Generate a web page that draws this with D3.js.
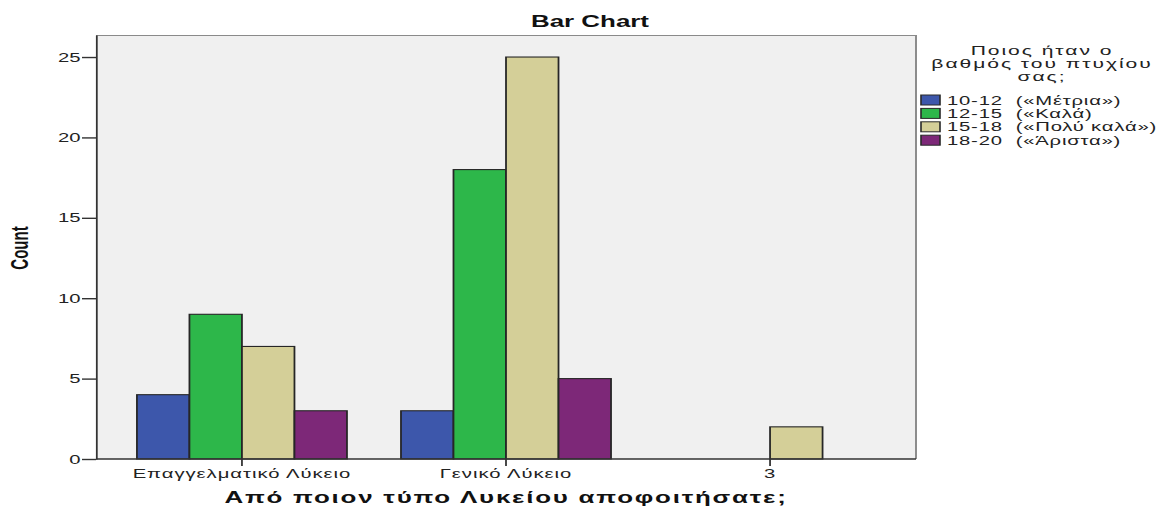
<!DOCTYPE html>
<html>
<head>
<meta charset="utf-8">
<script src="https://cdn.jsdelivr.net/npm/d3@7"></script>
<style>
  html, body { margin: 0; padding: 0; background: #fff; }
  svg { display: block; }
  text { font-family: "Liberation Sans", Arial, sans-serif; }
</style>
</head>
<body>
<svg id="chart" width="1158" height="506"></svg>
<script>
// ---- data ----
const categories = ["Επαγγελματικό Λύκειο", "Γενικό Λύκειο", "3"];
const seriesNames = ["10-12  («Μέτρια»)", "12-15  («Καλά)", "15-18  («Πολύ καλά»)", "18-20  («Άριστα»)"];
const seriesColors = ["#3d57ab", "#2db74a", "#d4cf98", "#7d2878"];
const values1012 = [4, 3, 0];
const values1215 = [9, 18, 0];
const values1518 = [7, 25, 2];
const values1820 = [3, 5, 0];
const yTicks = [0, 5, 10, 15, 20, 25];
const titleText = "Bar Chart";
const xTitle = "Από ποιον τύπο Λυκείου αποφοιτήσατε;";
const yTitle = "Count";
const legendTitle = ["Ποιος ήταν ο", "βαθμός του πτυχίου", "σας;"];

// ---- layout (real pixels; x is drawn in a horizontally stretched frame) ----
const SX = 1.62;                 // horizontal stretch of the original picture
const vx = v => v / SX;          // real x -> virtual x
const plot = { left: 96, right: 916, top: 35, bottom: 459 };

const svg = d3.select("#chart");
const root = svg.append("g").attr("transform", `scale(${SX},1)`);

const seriesValues = [values1012, values1215, values1518, values1820];

const x0 = d3.scaleBand()
  .domain(categories)
  .range([vx(plot.left), vx(plot.right)])
  .paddingInner(0.2045)
  .paddingOuter(0.155);
const x1 = d3.scaleBand()
  .domain(d3.range(seriesNames.length))
  .range([0, x0.bandwidth()])
  .padding(0);
const y = d3.scaleLinear().domain([0, 26.37]).range([plot.bottom, plot.top]);

// plot background
root.append("rect")
  .attr("x", vx(plot.left)).attr("y", plot.top)
  .attr("width", vx(plot.right) - vx(plot.left))
  .attr("height", plot.bottom - plot.top)
  .attr("fill", "#f0f0f0");
// top and right frame
root.append("path")
  .attr("d", `M${vx(plot.left)},${plot.top + 0.5}H${vx(plot.right)}V${plot.bottom}`)
  .attr("fill", "none").attr("stroke", "#8a8a8a").attr("stroke-width", 1.2);

// bars
const barData = [];
categories.forEach((c, ci) => {
  seriesValues.forEach((vals, si) => {
    if (vals[ci] > 0) barData.push({ c, si, v: vals[ci] });
  });
});
root.append("g").selectAll("rect").data(barData).join("rect")
  .attr("x", d => x0(d.c) + x1(d.si))
  .attr("y", d => y(d.v))
  .attr("width", x1.bandwidth())
  .attr("height", d => y(0) - y(d.v))
  .attr("fill", d => seriesColors[d.si])
  .attr("stroke", "#262626")
  .attr("stroke-width", 1.1);

// y axis
const yAxis = root.append("g")
  .attr("transform", `translate(${vx(plot.left)},0)`)
  .call(d3.axisLeft(y).tickValues(yTicks).tickSize(vx(14)).tickPadding(1).tickSizeOuter(0));
yAxis.select(".domain").attr("stroke", "#333").attr("stroke-width", 1.1);
yAxis.selectAll(".tick line").attr("stroke", "#333").attr("stroke-width", 1.4);
yAxis.selectAll(".tick text").attr("fill", "#222").style("font-size", "12.5px").style("font-family", "'Liberation Sans', Arial, sans-serif");

// x axis
const xAxis = root.append("g")
  .attr("transform", `translate(0,${plot.bottom})`)
  .call(d3.axisBottom(x0).tickSize(7).tickPadding(3).tickSizeOuter(0));
xAxis.select(".domain").attr("stroke", "#333").attr("stroke-width", 1.4)
  .attr("d", `M${vx(plot.left)},0H${vx(plot.right)}`);
xAxis.selectAll(".tick line").attr("stroke", "#333").attr("stroke-width", 1.1);
xAxis.selectAll(".tick text").attr("fill", "#222")
  .style("font-size", "12.5px").style("letter-spacing", "0.6px")
  .style("font-family", "'Liberation Sans', Arial, sans-serif");

// title
root.append("text")
  .attr("x", vx(590)).attr("y", 27)
  .attr("text-anchor", "middle")
  .style("font-size", "16px").style("font-weight", "bold").attr("fill", "#111")
  .text(titleText);

// x title
root.append("text")
  .attr("x", vx(506)).attr("y", 503)
  .attr("text-anchor", "middle")
  .style("font-size", "16px").style("font-weight", "bold").style("letter-spacing", "1.1px")
  .attr("fill", "#111")
  .text(xTitle);

// y title
root.append("text")
  .attr("transform", `translate(${vx(28)},248) rotate(-90)`)
  .attr("text-anchor", "middle")
  .style("font-size", "15px").style("font-weight", "bold").attr("fill", "#111")
  .text(yTitle);

// legend
const lg = root.append("g");
lg.selectAll("text.lt").data(legendTitle).join("text")
  .attr("class", "lt")
  .attr("x", vx(1042))
  .attr("y", (d, i) => 55 + i * 13)
  .attr("text-anchor", "middle")
  .style("font-size", "13px").style("letter-spacing", "1.2px").attr("fill", "#222")
  .text(d => d);
const items = lg.selectAll("g.li").data(seriesNames).join("g")
  .attr("class", "li")
  .attr("transform", (d, i) => `translate(0,${95 + i * 13.4})`);
items.append("rect")
  .attr("x", vx(921)).attr("y", 0)
  .attr("width", vx(940) - vx(921)).attr("height", 10)
  .attr("fill", (d, i) => seriesColors[i])
  .attr("stroke", "#2a2a2a").attr("stroke-width", 1);
items.append("text")
  .attr("x", vx(947)).attr("y", 9.5)
  .attr("xml:space", "preserve")
  .style("white-space", "pre")
  .style("font-size", "12.5px").style("letter-spacing", "0.5px").attr("fill", "#222")
  .text(d => d);
</script>
</body>
</html>
